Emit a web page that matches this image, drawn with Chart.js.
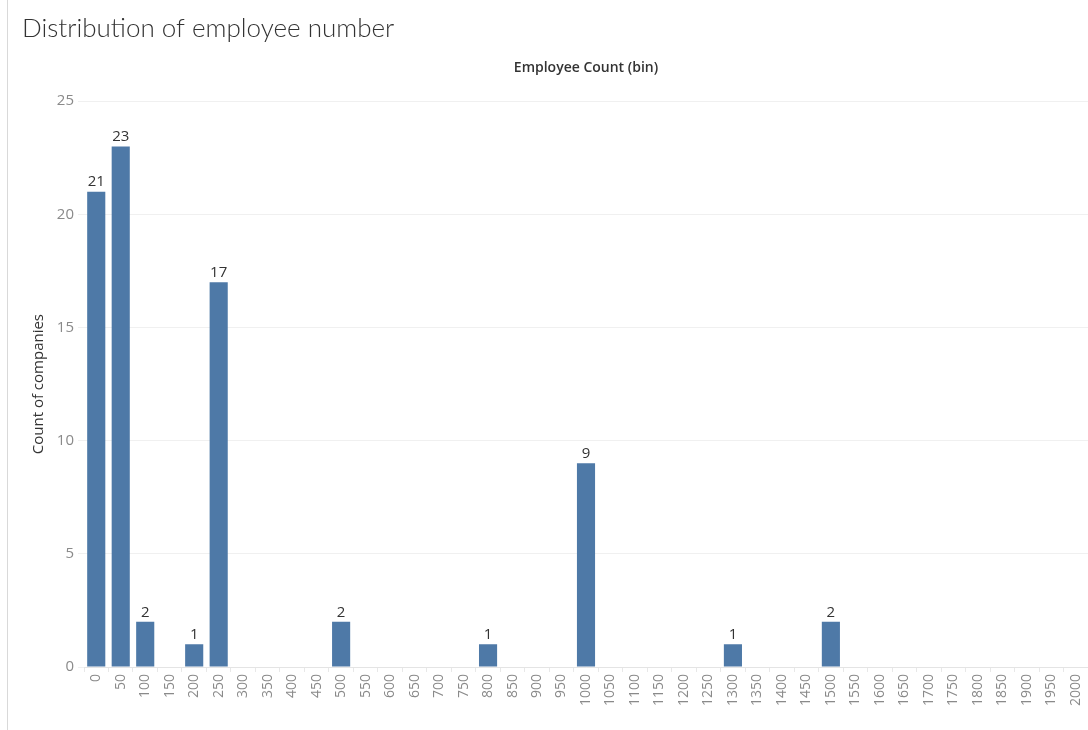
<!DOCTYPE html>
<html>
<head>
<meta charset="utf-8">
<title>Distribution of employee number</title>
<script src="https://cdn.jsdelivr.net/npm/chart.js@4.4.1/dist/chart.umd.min.js"></script>
<style>
  html, body { margin: 0; padding: 0; background: #fff; }
  #wrap { position: relative; width: 1088px; height: 730px; }
  #edge { position: absolute; left: 7px; top: 0; width: 1px; height: 730px; background: #d9d9d9; }
  canvas { position: absolute; left: 0; top: 0; }
</style>
</head>
<body>
<div id="wrap">
  <div id="edge"></div>
  <canvas id="histChart" width="1088" height="730"></canvas>
</div>
<script>
// employee count bins (lower edge of each bin)
var binLabels = ['0', '50', '100', '150', '200', '250', '300', '350', '400', '450',
                 '500', '550', '600', '650', '700', '750', '800', '850', '900', '950',
                 '1000', '1050', '1100', '1150', '1200', '1250', '1300', '1350', '1400', '1450',
                 '1500', '1550', '1600', '1650', '1700', '1750', '1800', '1850', '1900', '1950',
                 '2000'];
// number of companies in each bin
var companyCounts = [21, 23, 2, 0, 1, 17, 0, 0, 0, 0,
                     2, 0, 0, 0, 0, 0, 1, 0, 0, 0,
                     9, 0, 0, 0, 0, 0, 1, 0, 0, 0,
                     2, 0, 0, 0, 0, 0, 0, 0, 0, 0,
                     0];
var countTicks = [0, 5, 10, 15, 20, 25];

var titleFont = 'Lato, "Open Sans", sans-serif';
var labelFont = '"Open Sans", Lato, sans-serif';

// writes the count above each non-empty bar
var barValueLabels = {
    id: 'barValueLabels',
    afterDatasetsDraw: function (chart) {
        var ctx = chart.ctx;
        var meta = chart.getDatasetMeta(0);
        ctx.save();
        ctx.font = '15px ' + labelFont;
        ctx.fillStyle = '#333';
        ctx.textAlign = 'center';
        ctx.textBaseline = 'bottom';
        meta.data.forEach(function (bar, i) {
            var v = companyCounts[i];
            if (!v) return;
            ctx.fillText(String(v), bar.x, bar.y - 2);
        });
        ctx.restore();
    }
};

var ctx = document.getElementById('histChart').getContext('2d');
var histChart = new Chart(ctx, {
    type: 'bar',
    data: {
        labels: binLabels,
        datasets: [{
            label: 'Count of companies',
            data: companyCounts,
            backgroundColor: '#4e79a7',
            borderWidth: 0,
            categoryPercentage: 1.0,
            barPercentage: 0.74,
            xAxisID: 'x'
        }]
    },
    options: {
        responsive: false,
        animation: false,
        layout: { padding: { left: 22, right: 0, top: 0, bottom: 0 } },
        plugins: {
            legend: { display: false },
            tooltip: { enabled: false },
            title: {
                display: true,
                text: 'Distribution of employee number',
                align: 'start',
                color: '#333',
                font: { family: titleFont, size: 26, weight: '300' },
                padding: { top: 13, bottom: 0 }
            }
        },
        scales: {
            x: {
                type: 'category',
                position: 'bottom',
                offset: true,
                grid: {
                    display: true,
                    drawOnChartArea: false,
                    drawTicks: true,
                    tickLength: 5,
                    color: '#e8e8e8'
                },
                border: { display: true, color: '#e4e4e4' },
                ticks: {
                    minRotation: 90,
                    maxRotation: 90,
                    autoSkip: false,
                    padding: 2,
                    color: '#8a8a8a',
                    font: { family: labelFont, size: 14 }
                },
                afterFit: function (axis) {
                    axis.height = 63;
                    axis.paddingRight = 0;
                }
            },
            header: {
                type: 'category',
                position: 'top',
                labels: binLabels,
                grid: { display: false },
                border: { display: false },
                ticks: { display: false },
                title: {
                    display: true,
                    text: 'Employee Count (bin)',
                    color: '#333',
                    font: { family: labelFont, size: 14, weight: '600' },
                    padding: { top: 15, bottom: 0 }
                },
                afterFit: function (axis) { axis.height = 57; }
            },
            y: {
                min: 0,
                max: 25,
                afterBuildTicks: function (axis) {
                    axis.ticks = countTicks.map(function (v) { return { value: v }; });
                },
                grid: {
                    color: '#f0f0f0',
                    tickLength: 6,
                    tickColor: '#f0f0f0'
                },
                border: { display: false },
                ticks: {
                    padding: 4,
                    color: '#8a8a8a',
                    font: { family: labelFont, size: 15 }
                },
                title: {
                    display: true,
                    text: 'Count of companies',
                    color: '#333',
                    font: { family: labelFont, size: 15 },
                    padding: { top: 8, bottom: 0 }
                },
                afterFit: function (axis) { axis.width = 62; }
            }
        }
    },
    plugins: [barValueLabels]
});
</script>
</body>
</html>
